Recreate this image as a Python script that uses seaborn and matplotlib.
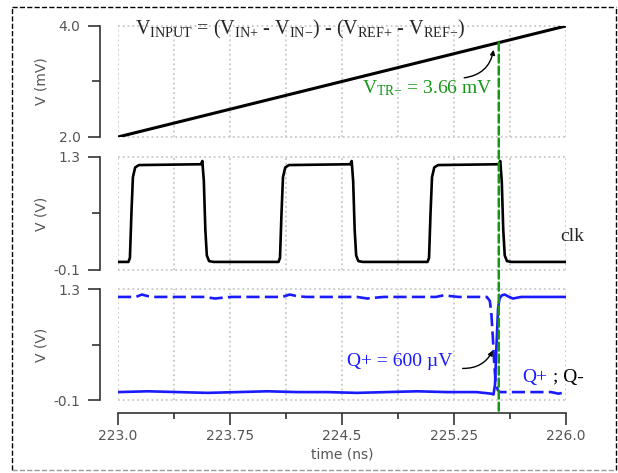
import numpy as np
import matplotlib
matplotlib.use("Agg")
import matplotlib.pyplot as plt
import seaborn as sns
from matplotlib.patches import ConnectionPatch
from matplotlib.lines import Line2D

sns.set_style("white")
plt.rcParams["font.family"] = ["DejaVu Sans"]
plt.rcParams["mathtext.fontset"] = "custom"
plt.rcParams["mathtext.rm"] = "Liberation Serif"
plt.rcParams["mathtext.it"] = "Liberation Serif:italic"

# ------------------------------------------------------------
# data
# ------------------------------------------------------------
ramp_t = [223.0, 226.0]
ramp_v = [2.0, 4.0]

clk_t = [223.00, 223.070, 223.080, 223.090, 223.100, 223.115, 223.140, 223.555, 223.565, 223.575, 223.585, 223.595, 223.610, 223.640,
         224.075, 224.085, 224.095, 224.105, 224.120, 224.145, 224.555, 224.565, 224.575, 224.585, 224.595, 224.610, 224.640,
         225.073, 225.083, 225.093, 225.103, 225.118, 225.143, 225.550, 225.560, 225.570, 225.580, 225.590, 225.605, 225.635,
         226.00]
clk_v = [0.0, 0.0, 0.05, 0.6, 1.05, 1.17, 1.2, 1.21, 1.25, 1.0, 0.4, 0.08, 0.01, 0.0,
         0.0, 0.05, 0.6, 1.05, 1.17, 1.2, 1.21, 1.25, 1.0, 0.4, 0.08, 0.01, 0.0,
         0.0, 0.05, 0.6, 1.05, 1.17, 1.2, 1.21, 1.25, 1.0, 0.4, 0.08, 0.01, 0.0,
         0.0]

qp_t = [223.0, 223.2, 223.4, 223.6, 223.8, 224.0, 224.2, 224.4, 224.6, 224.8, 225.0, 225.2, 225.4,
        225.50, 225.515, 225.525, 225.535, 225.545, 225.555, 225.57, 225.59, 225.62, 225.645, 225.70, 226.0]
qp_v = [0.0, 0.01, 0.0, -0.01, 0.0, 0.01, 0.0, 0.0, -0.01, 0.0, 0.01, 0.0, 0.0,
        -0.02, -0.03, 0.1, 0.6, 1.05, 1.18, 1.22, 1.23, 1.2, 1.18, 1.2, 1.2]

qm_t = [223.0, 223.12, 223.16, 223.20, 223.25, 223.58, 223.65, 223.70, 223.76, 224.10, 224.15, 224.20, 224.26,
        224.60, 224.67, 224.72, 224.78, 225.13, 225.18, 225.23, 225.28, 225.47, 225.49, 225.50, 225.51,
        225.52, 225.53, 225.545, 225.56, 225.60, 225.90, 225.95, 226.0]
qm_v = [1.2, 1.2, 1.23, 1.21, 1.2, 1.2, 1.18, 1.19, 1.2, 1.2, 1.23, 1.21, 1.2,
        1.2, 1.18, 1.19, 1.2, 1.2, 1.22, 1.21, 1.2, 1.2, 1.15, 1.0, 0.7,
        0.35, 0.1, 0.02, 0.0, 0.0, 0.0, -0.02, 0.0]

t_tr, v_tr = 225.55, 3.70

x_major = [223.0, 223.75, 224.5, 225.25, 226.0]
x_minor = [223.375, 224.125, 224.875, 225.625]
x_labels = ["223.0", "223.75", "224.5", "225.25", "226.0"]

GRAY = "#555555"
GREEN = "#169616"
BLUE = "#1a1aff"

# ------------------------------------------------------------
# figure
# ------------------------------------------------------------
fig = plt.figure(figsize=(6.18, 4.73), dpi=100)
ax1 = fig.add_axes([0.1909, 0.7104, 0.7249, 0.2347])
ax2 = fig.add_axes([0.1909, 0.4292, 0.7249, 0.2389])
ax3 = fig.add_axes([0.1909, 0.1543, 0.7249, 0.2347])

sns.lineplot(x=ramp_t, y=ramp_v, ax=ax1, color="black", lw=2.2, estimator=None)
sns.lineplot(x=clk_t, y=clk_v, ax=ax2, color="black", lw=1.9, estimator=None)
sns.lineplot(x=qm_t, y=qm_v, ax=ax3, color=BLUE, lw=1.9, estimator=None)
ax3.lines[-1].set_dashes([5, 2])
sns.lineplot(x=qp_t, y=qp_v, ax=ax3, color=BLUE, lw=1.9, estimator=None)

limits = [(2.0, 4.0), (-0.1, 1.3), (-0.1, 1.3)]
ymajor = [[2.0, 4.0], [-0.1, 1.3], [-0.1, 1.3]]
yminor = [[3.0], [0.6], [0.6]]
ylabs = [["2.0", "4.0"], ["-0.1", "1.3"], ["-0.1", "1.3"]]
names = ["V (mV)", "V (V)", "V (V)"]

for ax, lim, yt, ym, yl, nm in zip([ax1, ax2, ax3], limits, ymajor, yminor, ylabs, names):
    ax.set_xlim(223.0, 226.0)
    ax.set_ylim(*lim)
    ax.set_xticks(x_major)
    ax.set_xticks(x_minor, minor=True)
    ax.set_yticks(yt)
    ax.set_yticks(ym, minor=True)
    ax.set_yticklabels(yl)
    ax.grid(False)
    ax.grid(True, axis="x", which="both", ls=":", lw=1.3, color="#c8c8c8")
    for yy in lim:
        ax.axhline(yy, ls=":", lw=1.3, color="#c8c8c8", clip_on=False, zorder=0)
    for s in ["top", "right"]:
        ax.spines[s].set_visible(False)
    ax.spines["left"].set_position(("outward", 13))
    ax.spines["left"].set_color("#333333")
    ax.spines["left"].set_linewidth(1.2)
    ax.tick_params(axis="y", which="major", direction="out", length=9, width=1.2,
                   color="#333333", labelsize=10, labelcolor=GRAY, pad=5, left=True)
    ax.tick_params(axis="y", which="minor", direction="out", length=5.5, width=1.2,
                   color="#333333", left=True)
    ax.set_ylabel(nm, fontsize=10, color=GRAY)
    ax.yaxis.set_label_coords(-0.156, 0.5)
    ax.patch.set_alpha(0)

for ax in [ax1, ax2]:
    ax.spines["bottom"].set_visible(False)
    ax.tick_params(axis="x", which="both", length=0, labelbottom=False)
    ax.set_xlabel("")

ax3.spines["bottom"].set_position(("outward", 9))
ax3.spines["bottom"].set_color("#333333")
ax3.spines["bottom"].set_linewidth(1.2)
ax3.set_xticklabels(x_labels)
ax3.tick_params(axis="x", which="major", direction="out", length=8.6, width=1.2,
                color="#333333", labelsize=10, labelcolor=GRAY, pad=3.5, bottom=True)
ax3.tick_params(axis="x", which="minor", direction="out", length=4.3, width=1.2,
                color="#333333", bottom=True)
ax3.set_xlabel("time (ns)", fontsize=10, color=GRAY)
ax3.xaxis.set_label_coords(0.5, -0.425)

# ------------------------------------------------------------
# annotations
# ------------------------------------------------------------
serif = "Liberation Serif"
ax1.text(224.22, 3.93,
         r"V$_\mathrm{INPUT}$ = (V$_\mathrm{IN{+}}$ - V$_\mathrm{IN{-}}$) - (V$_\mathrm{REF{+}}$ - V$_\mathrm{REF{-}}$)",
         family=serif, fontsize=14.5, ha="center", va="center")
ax1.text(224.634, 2.88, r"V$_\mathrm{TR{-}}$ = 3.66 mV", family=serif, fontsize=14,
         color=GREEN, ha="left", va="center")
ax1.annotate("", xy=(225.518, 3.62), xytext=(225.30, 3.06),
             arrowprops=dict(arrowstyle="-|>", color="black", lw=1.0,
                             connectionstyle="arc3,rad=0.4", mutation_scale=7))

ax2.text(225.96, 0.31, "clk", family=serif, fontsize=14, ha="left", va="center")

ax3.text(224.533, 0.38, "Q+ = 600 µV", family=serif, fontsize=14, color=BLUE,
         ha="left", va="center")
ax3.annotate("", xy=(225.518, 0.556), xytext=(225.29, 0.30),
             arrowprops=dict(arrowstyle="-|>", color="black", lw=1.0,
                             connectionstyle="arc3,rad=0.35", mutation_scale=7))
ax3.text(225.705, 0.19, "Q+", family=serif, fontsize=14, color=BLUE, ha="left", va="center")
ax3.text(225.915, 0.19, "; Q-", family=serif, fontsize=14, color="black", ha="left", va="center")

# green threshold line through all panels
con = ConnectionPatch(xyA=(t_tr, v_tr), coordsA=ax1.transData,
                      xyB=(t_tr, -12 / 111), coordsB=ax3.get_xaxis_transform(),
                      color=GREEN, lw=1.8, linestyle=(0, (3.2, 1.6)), zorder=5)
fig.add_artist(con)

# dashed outer frame
L, R, B, T = 12 / 618, 616 / 618, 3 / 473, 466 / 473
for xs, ys, c in [([L, R], [T, T], "black"), ([L, L], [B, T], "black"),
                  ([R, R], [B, T], "black"), ([L, R], [B, B], "#999999")]:
    fig.add_artist(Line2D(xs, ys, transform=fig.transFigure, color=c, lw=1.0, ls="--"))

fig.savefig("out.png", dpi=100)
